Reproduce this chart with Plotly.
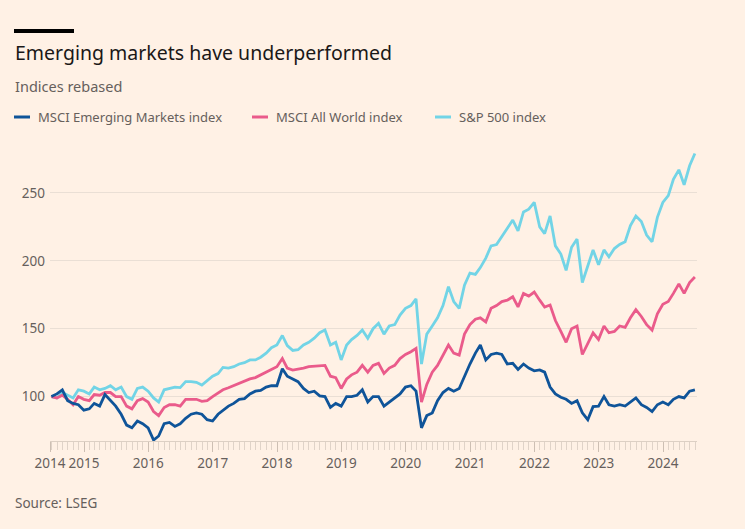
import pandas as pd
import plotly.graph_objects as go

# month-end observations, Jun 2014 .. Jun 2024 (rebased, start = 100)
dates = pd.date_range("2014-06-30", "2024-06-30", freq="ME")

emerging = [
    100, 102, 105, 97, 95, 94, 90,
    91, 95, 93, 101.5, 97, 93, 87, 79, 77, 82, 80, 77,
    68, 71, 80, 81, 78, 80, 84, 87, 88, 87, 83, 82,
    87, 90, 93, 95, 98, 98.5, 102, 104, 104.5, 107, 108, 108,
    120.5, 115, 113, 111, 106, 103, 104, 100.5, 100, 92, 95, 93,
    100, 100, 101, 105, 96, 100, 100, 93, 96, 99, 102, 107,
    108, 104, 77, 86, 88, 97, 103, 106, 104, 106, 115, 124,
    132, 138, 127, 131, 132, 131, 124, 124.5, 120, 124, 121, 119,
    119.6, 118, 107, 102, 99.5, 98, 95, 97, 88, 83, 92.6, 93,
    100, 94, 93, 94, 93, 96, 99, 94, 92, 89, 94, 96,
    94, 98, 100, 99, 104, 105,
]

all_world = [
    100, 99, 101, 98, 94, 100, 98,
    97, 101.5, 101, 103, 103, 100, 100, 93, 91, 97, 98.5, 96,
    89, 86, 92, 94, 94, 93, 98, 98, 98, 96.5, 97, 100,
    102.5, 105, 106.5, 108, 110, 111, 113, 114, 116, 118, 120, 122,
    128, 121, 119.5, 120, 121, 122, 122.5, 122.5, 123, 115, 114, 106,
    113, 116, 118, 123, 118, 123, 124.5, 117, 121, 123, 128, 131,
    133, 135.5, 96, 109, 118, 123, 130, 138, 132, 130.5, 146, 153,
    157, 158, 155, 165, 167, 170, 171, 173.5, 166, 176, 174, 177,
    171, 166, 167.5, 156, 148, 140, 150, 152, 131, 139, 147, 142,
    152, 147, 148, 152, 151, 158, 164, 159, 153, 149, 161, 168,
    170, 176, 183, 176, 184, 188,
]

sp500 = [
    100, 99, 103, 101, 99, 105, 104,
    102, 107, 105, 106, 108, 105, 107, 100, 98, 106, 107, 104,
    99, 96, 105, 106, 107, 106.6, 111, 111, 110.5, 108.5, 112, 115,
    117, 121.5, 121, 122, 124, 125, 127, 127, 129, 132, 136, 138,
    145, 137.5, 134, 134.5, 138, 140, 143, 147, 149, 138, 140, 127,
    138, 142, 145, 149, 143, 150, 154, 146, 152, 153, 160, 165,
    167, 172, 124, 146, 152, 158, 167, 181, 170, 165, 182, 191,
    190, 195, 202, 211, 212, 218, 224, 230, 222, 236, 238, 243,
    225, 220, 233, 211, 205, 193, 210, 216, 184, 197, 208, 197,
    208, 203, 209, 212, 214, 226, 233, 229, 219, 214, 232, 243,
    248, 260, 267, 256, 270, 279,
]

series = [
    ("S&P 500 index", sp500, "#72d4e6"),
    ("MSCI All World index", all_world, "#ea5b8b"),
    ("MSCI Emerging Markets index", emerging, "#0f5499"),
]
legend_order = ["MSCI Emerging Markets index", "MSCI All World index", "S&P 500 index"]

year_ticks = ["2014-06-22"] + [f"{y}-01-01" for y in range(2015, 2025)]
year_labels = [str(y) for y in range(2014, 2025)]
y_ticks = [100, 150, 200, 250]

W, H = 745, 529
L, R, T, B = 50, 48, 150, 88
pw, ph = W - L - R, H - T - B


def px(x):
    return (x - L) / pw


def py(y):
    return (H - B - y) / ph


muted = "#66605c"
font = "Noto Sans"

fig = go.Figure()
for name, vals, col in series:
    fig.add_trace(go.Scatter(x=dates, y=vals, name=name, mode="lines",
                             line=dict(color=col, width=2.8), showlegend=False))

shapes = [dict(type="rect", xref="paper", yref="paper",
               x0=px(14), x1=px(74), y0=py(33), y1=py(29),
               fillcolor="#000000", line_width=0)]
annotations = [
    dict(text="Emerging markets have underperformed", x=px(13), y=py(52),
         font=dict(size=19.5, color="#1a1817")),
    dict(text="Indices rebased", x=px(13), y=py(86), font=dict(size=14.5, color=muted)),
    dict(text="Source: LSEG", x=px(13), y=py(503), font=dict(size=13.5, color=muted)),
]

leg_x = [14, 252, 435]
colours = {n: c for n, _, c in series}
for name, lx in zip(legend_order, leg_x):
    shapes.append(dict(type="line", xref="paper", yref="paper",
                       x0=px(lx), x1=px(lx + 16), y0=py(117), y1=py(117),
                       line=dict(color=colours[name], width=3)))
    annotations.append(dict(text=name, x=px(lx + 22), y=py(117),
                            font=dict(size=13, color=muted)))

for a in annotations:
    a.update(xref="paper", yref="paper", xanchor="left", yanchor="middle", showarrow=False)

fig.update_layout(
    width=W, height=H,
    margin=dict(l=L, r=R, t=T, b=B),
    paper_bgcolor="#fff1e5", plot_bgcolor="#fff1e5",
    font=dict(family=font, color=muted, size=14),
    shapes=shapes, annotations=annotations,
    showlegend=False,
)
fig.update_xaxes(
    range=["2014-06-22", "2024-07-12"],
    tickmode="array", tickvals=year_ticks, ticktext=year_labels, tickangle=0,
    ticks="outside", ticklen=10, tickcolor="#cdbfb3", tickwidth=1,
    showline=True, linecolor="#ddd0c4", linewidth=1,
    showgrid=False, zeroline=False,
    tickfont=dict(size=13.5, color=muted),
    minor=dict(dtick="M1", tick0="2014-07-01", ticks="outside", ticklen=8,
               tickcolor="#e0d3c8", showgrid=False),
)
fig.update_yaxes(
    range=[67.3, 281.6], tickmode="array", tickvals=y_ticks,
    showgrid=True, gridcolor="#eadfd5", gridwidth=1, zeroline=False,
    ticks="", ticklabelstandoff=4, tickfont=dict(size=13.5, color=muted),
)

fig.write_html("out.html", config={"displayModeBar": False},
               post_script="document.body.style.margin='0';")
